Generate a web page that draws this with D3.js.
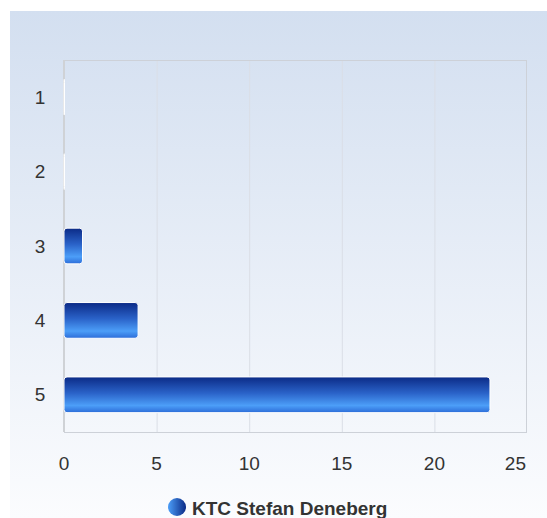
<!DOCTYPE html>
<html><head><meta charset="utf-8">
<script src="https://cdn.jsdelivr.net/npm/d3@7"></script>
<style>body{margin:0;background:#fff;}svg{display:block;font-family:"Liberation Sans",Arial,sans-serif;}</style>
</head><body>
<svg id="c" width="547" height="518"></svg>
<script>
const categories = ["1","2","3","4","5"];
const values = [0, 0, 1, 4, 23];
const xTicks = [0, 5, 10, 15, 20, 25];
const seriesName = "KTC Stefan Deneberg";

const svg = d3.select("#c");
const W = 547, H = 518;
const defs = svg.append("defs");
const bg = defs.append("linearGradient").attr("id","bg").attr("x1",0).attr("y1",0).attr("x2",0).attr("y2",1);
bg.append("stop").attr("offset","0%").attr("stop-color","#d3dff0");
bg.append("stop").attr("offset","100%").attr("stop-color","#fbfcfe");
const bar = defs.append("linearGradient").attr("id","bar").attr("x1",0).attr("y1",0).attr("x2",0).attr("y2",1);
bar.append("stop").attr("offset","0%").attr("stop-color","#0b2a86");
bar.append("stop").attr("offset","45%").attr("stop-color","#2a62c8");
bar.append("stop").attr("offset","80%").attr("stop-color","#4c9ef8");
bar.append("stop").attr("offset","100%").attr("stop-color","#2c6cd8");
const leg = defs.append("linearGradient").attr("id","leg").attr("x1",0).attr("y1",0).attr("x2",1).attr("y2",0);
leg.append("stop").attr("offset","0%").attr("stop-color","#4c9ef8");
leg.append("stop").attr("offset","100%").attr("stop-color","#0b2a86");

svg.append("rect").attr("x",10).attr("y",11).attr("width",W-10).attr("height",H-11).attr("fill","url(#bg)");

const m = {l:64, r:527, t:60, b:432};
const x = d3.scaleLinear().domain([0,25]).range([m.l, m.r]);
const y = d3.scaleBand().domain(categories).range([m.t, m.b]).paddingInner(0.52).paddingOuter(0.26);

// grid
svg.append("g").selectAll("line").data(xTicks.slice(1,-1)).join("line")
  .attr("x1",d=>x(d)+0.5).attr("x2",d=>x(d)+0.5).attr("y1",m.t).attr("y2",m.b)
  .attr("stroke","#dadee6").attr("stroke-width",1);
svg.append("rect").attr("x",m.l+0.5).attr("y",m.t+0.5).attr("width",m.r-m.l-1).attr("height",m.b-m.t)
  .attr("fill","none").attr("stroke","#cdd1d8");
svg.append("line").attr("x1",m.l).attr("x2",m.l).attr("y1",m.t).attr("y2",m.b)
  .attr("stroke","#cfd2d6").attr("stroke-width",2);

// bars
svg.append("g").selectAll("rect").data(categories).join("rect")
  .attr("x", x(0)).attr("y", (d)=>y(d))
  .attr("width",(d,i)=>Math.max(0.5, x(values[i])-x(0)))
  .attr("height", y.bandwidth())
  .attr("rx",3).attr("ry",3)
  .attr("fill",(d,i)=>values[i]>0?"url(#bar)":"none")
  .attr("stroke","#ffffff").attr("stroke-width",1);

// y axis labels
svg.append("g").selectAll("text").data(categories).join("text")
  .attr("x",40).attr("y",d=>y(d)+y.bandwidth()/2).attr("dy","0.35em")
  .attr("text-anchor","middle").attr("font-size",19).attr("fill","#333").text(d=>d);

// x axis labels
svg.append("g").selectAll("text").data(xTicks).join("text")
  .attr("x",(d,i)=>i===xTicks.length-1 ? x(d)-1 : x(d)).attr("y",463).attr("dy","0.35em")
  .attr("text-anchor",(d,i)=>i===xTicks.length-1?"end":"middle").attr("font-size",19).attr("fill","#333").text(d=>d);

// legend
svg.append("circle").attr("cx",177).attr("cy",507).attr("r",9).attr("fill","url(#leg)");
svg.append("text").attr("x",192).attr("y",508).attr("dy","0.35em").attr("font-size",19).attr("font-weight","bold")
  .attr("fill","#333").text(seriesName);
</script>
</body></html>
